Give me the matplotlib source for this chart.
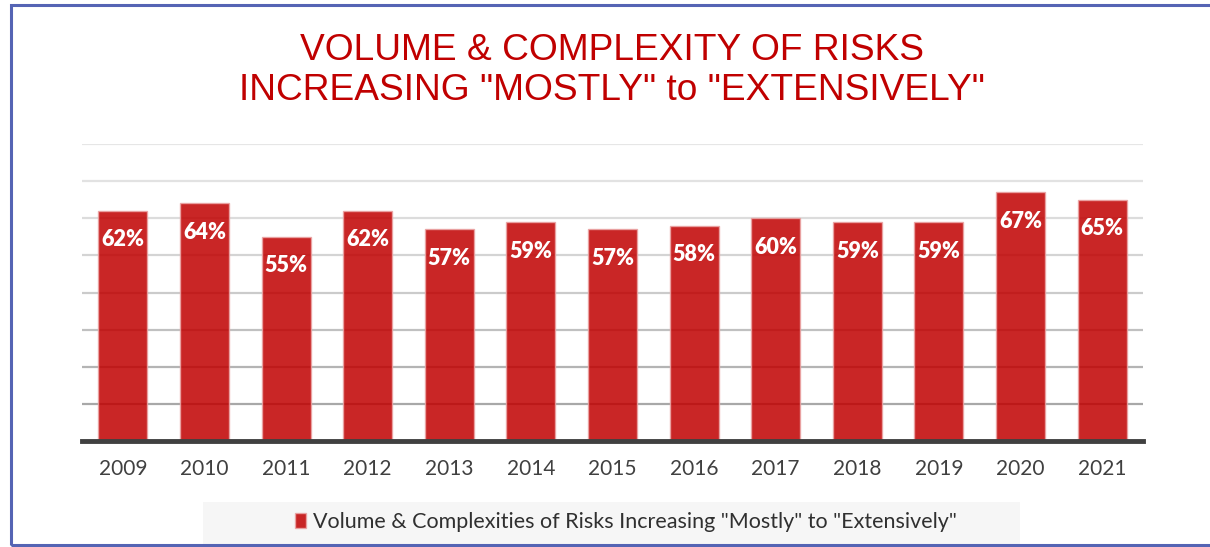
import numpy as np
import matplotlib
matplotlib.use("Agg")
import matplotlib.pyplot as plt
from matplotlib.patches import Rectangle

# data
years = ["2009", "2010", "2011", "2012", "2013", "2014", "2015",
         "2016", "2017", "2018", "2019", "2020", "2021"]
values = [62, 64, 55, 62, 57, 59, 57, 58, 60, 59, 59, 67, 65]
series_name = 'Volume & Complexities of Risks Increasing "Mostly" to "Extensively"'
title_lines = ['VOLUME & COMPLEXITY OF RISKS', 'INCREASING "MOSTLY" to "EXTENSIVELY"']

red = "#c00000"

fig = plt.figure(figsize=(12.1, 5.47), dpi=100)

# blue frame around the chart (cut off on the right like the screenshot)
fig.patches.append(Rectangle((11 / 1210, 2 / 547), 1.2, 540 / 547,
                             transform=fig.transFigure, fill=False,
                             edgecolor="#5564b4", linewidth=2.2))

ax = fig.add_axes([82 / 1210, 1 - 441 / 547, (1143 - 82) / 1210, (441 - 144) / 547])

# gridlines, darker towards the bottom
grid_vals = np.arange(10, 90, 10)
grid_cols = ["#a8a8a8", "#b4b4b4", "#c0c0c0", "#cbcbcb",
             "#d4d4d4", "#dcdcdc", "#e2e2e2", "#e6e6e6"]
for g, c in zip(grid_vals, grid_cols):
    ax.axhline(g, color=c, linewidth=1.6, zorder=1)

x = np.arange(len(years))
bars = ax.bar(x, values, width=0.6, color=red, alpha=0.85,
              edgecolor="#eaa4a4", linewidth=1, zorder=2, label=series_name)

for xi, v in zip(x, values):
    ax.annotate(f"{v}%", (xi, v), xytext=(0, -21), textcoords="offset points",
                ha="center", va="center", color="white", fontsize=15.5,
                fontweight="heavy", family="Lato", zorder=3)

ax.set_xlim(-0.5, len(years) - 0.5)
ax.set_ylim(0, 80)
ax.set_yticks([])
ax.set_xticks(x)
ax.set_xticklabels(years, fontsize=15, color="#404040", family="Lato")
ax.tick_params(axis="x", length=0, pad=13)
for s in ["top", "right", "left"]:
    ax.spines[s].set_visible(False)
ax.spines["bottom"].set_color("#404040")
ax.spines["bottom"].set_linewidth(3.5)
ax.spines["bottom"].set_zorder(4)

# title
fig.text(612 / 1210, 1 - 50 / 547, title_lines[0], ha="center", va="center",
         color=red, fontsize=26.7, family="Liberation Sans")
fig.text(612 / 1210, 1 - 91 / 547, title_lines[1], ha="center", va="center",
         color=red, fontsize=26.7, family="Liberation Sans")

# legend with light grey band
fig.patches.append(Rectangle((203 / 1210, 2 / 547), (1020 - 203) / 1210, 43 / 547,
                             transform=fig.transFigure, facecolor="#f6f6f6",
                             edgecolor="none", zorder=0))
leg = fig.legend(handles=[Rectangle((0, 0), 1, 1, facecolor=red, alpha=0.85,
                                    edgecolor="#eaa4a4")],
                 labels=[series_name], loc="center", bbox_to_anchor=(626 / 1210, 1 - 522 / 547),
                 frameon=False, handlelength=0.5, handleheight=0.75, handletextpad=0.3,
                 prop={"family": "Lato", "size": 15.5})
for t in leg.get_texts():
    t.set_color("#303030")

fig.savefig("out.png", dpi=100)
